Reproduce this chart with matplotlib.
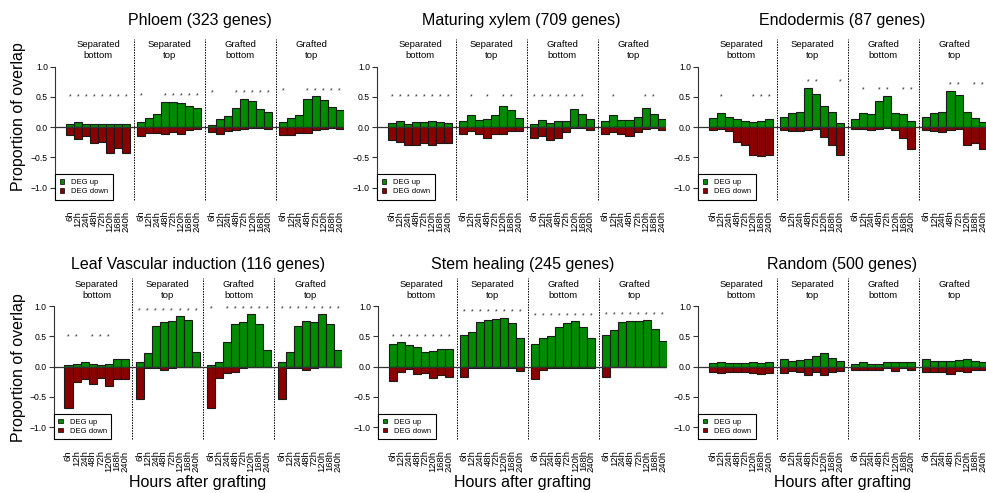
import numpy as np
import matplotlib
matplotlib.use('Agg')
import matplotlib.pyplot as plt
from matplotlib.patches import Patch

plt.rcParams['font.family'] = ['Liberation Sans', 'DejaVu Sans']

GREEN = '#008B00'
RED = '#8B0000'
EDGE = '#1a1a1a'

TIMES = ['6h', '12h', '24h', '48h', '72h', '120h', '168h', '240h']
CONDITIONS = ['Separated\nbottom', 'Separated\ntop', 'Grafted\nbottom', 'Grafted\ntop']
TITLES = ['Phloem (323 genes)', 'Maturing xylem (709 genes)', 'Endodermis (87 genes)',
          'Leaf Vascular induction (116 genes)', 'Stem healing (245 genes)', 'Random (500 genes)']

# one row per condition, one column per time point
phloem_up = [[0.05, 0.08, 0.05, 0.05, 0.05, 0.05, 0.05, 0.05],
             [0.08, 0.15, 0.21, 0.42, 0.42, 0.40, 0.35, 0.31],
             [0.03, 0.13, 0.18, 0.31, 0.47, 0.43, 0.30, 0.25],
             [0.08, 0.15, 0.20, 0.46, 0.51, 0.45, 0.33, 0.28]]
phloem_down = [[-0.14, -0.19, -0.15, -0.27, -0.24, -0.43, -0.35, -0.43],
               [-0.15, -0.10, -0.10, -0.12, -0.09, -0.12, -0.05, -0.04],
               [-0.08, -0.12, -0.07, -0.05, -0.03, -0.01, -0.01, -0.04],
               [-0.13, -0.13, -0.10, -0.10, -0.05, -0.04, -0.02, -0.04]]
phloem_sig = [[1, 1, 1, 1, 1, 1, 1, 1],
              [1, 0, 0, 1, 1, 1, 1, 1],
              [1, 0, 0, 1, 1, 1, 1, 1],
              [1, 0, 0, 1, 1, 1, 1, 1]]

xylem_up = [[0.07, 0.10, 0.05, 0.08, 0.08, 0.10, 0.08, 0.07],
            [0.10, 0.20, 0.12, 0.13, 0.20, 0.35, 0.28, 0.15],
            [0.05, 0.12, 0.07, 0.10, 0.10, 0.30, 0.21, 0.13],
            [0.10, 0.20, 0.12, 0.12, 0.16, 0.31, 0.21, 0.13]]
xylem_down = [[-0.22, -0.25, -0.29, -0.30, -0.27, -0.30, -0.26, -0.26],
              [-0.12, -0.07, -0.12, -0.18, -0.12, -0.12, -0.07, -0.07],
              [-0.18, -0.15, -0.22, -0.18, -0.08, -0.02, -0.02, -0.05],
              [-0.12, -0.08, -0.12, -0.15, -0.08, -0.04, -0.02, -0.05]]
xylem_sig = [[1, 1, 1, 1, 1, 1, 1, 1],
             [0, 1, 0, 1, 0, 1, 1, 0],
             [1, 1, 1, 1, 1, 1, 1, 0],
             [0, 1, 0, 0, 0, 1, 1, 0]]

endo_up = [[0.15, 0.23, 0.16, 0.13, 0.10, 0.08, 0.10, 0.13],
           [0.16, 0.23, 0.25, 0.65, 0.55, 0.35, 0.25, 0.07],
           [0.13, 0.23, 0.21, 0.43, 0.52, 0.23, 0.21, 0.10],
           [0.16, 0.23, 0.25, 0.60, 0.53, 0.25, 0.15, 0.08]]
endo_down = [[-0.05, -0.04, -0.07, -0.24, -0.30, -0.46, -0.48, -0.46],
             [-0.05, -0.07, -0.07, -0.05, -0.04, -0.17, -0.29, -0.47],
             [-0.04, -0.04, -0.05, -0.04, -0.02, -0.05, -0.18, -0.37],
             [-0.05, -0.07, -0.08, -0.05, -0.04, -0.30, -0.27, -0.37]]
endo_sig = [[0, 1, 0, 0, 0, 1, 1, 1],
            [0, 0, 0, 1, 1, 0, 0, 1],
            [0, 1, 0, 1, 1, 0, 1, 1],
            [0, 0, 0, 1, 1, 0, 1, 1]]

leaf_up = [[0.03, 0.05, 0.08, 0.05, 0.02, 0.05, 0.13, 0.13],
           [0.08, 0.22, 0.67, 0.74, 0.75, 0.84, 0.77, 0.25],
           [0.03, 0.07, 0.40, 0.70, 0.74, 0.87, 0.70, 0.27],
           [0.08, 0.24, 0.67, 0.75, 0.74, 0.87, 0.70, 0.28]]
leaf_down = [[-0.69, -0.26, -0.21, -0.29, -0.18, -0.32, -0.21, -0.21],
             [-0.54, -0.02, -0.02, -0.05, -0.02, 0.00, 0.00, 0.00],
             [-0.68, -0.18, -0.10, -0.08, -0.02, 0.00, 0.00, 0.00],
             [-0.53, -0.02, -0.02, -0.05, -0.02, 0.00, 0.00, 0.00]]
leaf_sig = [[1, 1, 0, 1, 1, 1, 0, 0],
            [1, 1, 1, 1, 1, 1, 1, 1],
            [1, 0, 1, 1, 1, 1, 1, 1],
            [1, 1, 1, 1, 1, 1, 1, 1]]

stem_up = [[0.37, 0.40, 0.35, 0.32, 0.24, 0.26, 0.30, 0.29],
           [0.52, 0.58, 0.74, 0.77, 0.79, 0.81, 0.72, 0.47],
           [0.38, 0.47, 0.51, 0.65, 0.72, 0.75, 0.65, 0.47],
           [0.52, 0.60, 0.74, 0.75, 0.75, 0.77, 0.62, 0.43]]
stem_down = [[-0.24, -0.08, -0.04, -0.12, -0.10, -0.19, -0.14, -0.17],
             [-0.17, -0.02, -0.02, -0.03, -0.03, -0.03, -0.03, -0.07],
             [-0.20, -0.05, -0.03, -0.03, -0.02, -0.02, -0.02, -0.03],
             [-0.17, -0.01, -0.01, -0.01, -0.01, -0.01, -0.01, -0.01]]
stem_sig = [[1] * 8, [1] * 8, [1] * 8, [1] * 8]

random_up = [[0.06, 0.08, 0.06, 0.06, 0.06, 0.08, 0.06, 0.08],
             [0.13, 0.10, 0.11, 0.13, 0.18, 0.23, 0.15, 0.10],
             [0.05, 0.07, 0.05, 0.05, 0.08, 0.08, 0.08, 0.08],
             [0.13, 0.10, 0.10, 0.10, 0.11, 0.13, 0.10, 0.08]]
random_down = [[-0.08, -0.10, -0.08, -0.08, -0.08, -0.10, -0.12, -0.10],
               [-0.10, -0.07, -0.08, -0.13, -0.08, -0.13, -0.08, -0.07],
               [-0.05, -0.05, -0.05, -0.05, -0.03, -0.07, -0.03, -0.05],
               [-0.08, -0.08, -0.08, -0.12, -0.07, -0.08, -0.05, -0.05]]
random_sig = [[0] * 8, [0] * 8, [0] * 8, [0] * 8]

panels = [(phloem_up, phloem_down, phloem_sig),
          (xylem_up, xylem_down, xylem_sig),
          (endo_up, endo_down, endo_sig),
          (leaf_up, leaf_down, leaf_sig),
          (stem_up, stem_down, stem_sig),
          (random_up, random_down, random_sig)]

W, H = 987, 493
GAP = 0.87
STEP = len(TIMES) + GAP
XMIN, XMAX = -1.37, 4 * STEP - GAP + 0.05

# pixel layout of the panels
lefts = [[55, 377, 698], [53.5, 378, 698]]
panel_w = 289
row_top = [36.3, 275.9]
row_bot = [199.6, 439.3]
title_y = [20, 264]
ylab_y = [117, 368]

fig = plt.figure(figsize=(W / 100, H / 100), dpi=100)

for k, (up, down, sig) in enumerate(panels):
    r, c = divmod(k, 3)
    ax = fig.add_axes([lefts[r][c] / W, 1 - row_bot[r] / H,
                       panel_w / W, (row_bot[r] - row_top[r]) / H])
    ticks = []
    for g in range(4):
        xs = g * STEP + np.arange(len(TIMES)) + 0.5
        ticks.extend(xs)
        ax.bar(xs, up[g], width=1, color=GREEN, edgecolor=EDGE, linewidth=0.8, zorder=2)
        ax.bar(xs, down[g], width=1, color=RED, edgecolor=EDGE, linewidth=0.8, zorder=2)
        star_y = max(0.5, max(up[g]) + 0.09)
        for x, s in zip(xs, sig[g]):
            if s:
                ax.text(x, star_y, '*', ha='center', va='center', fontsize=5, color='#222222')
        ax.text(g * STEP + 4, 1.27, CONDITIONS[g], ha='center', va='center',
                fontsize=6.8, linespacing=1.25)
        if g > 0:
            xsep = g * STEP - GAP / 2
            ax.plot([xsep, xsep], [-1.2, 1.46], color='black', lw=0.7,
                    ls=(0, (1.5, 1.2)), clip_on=False)
    ax.axhline(0, color='#333333', lw=0.9, zorder=3)

    ax.set_xlim(XMIN, XMAX)
    ax.set_ylim(-1.2, 1.5)
    for side in ['top', 'right', 'bottom']:
        ax.spines[side].set_visible(False)
    ax.spines['left'].set_bounds(-1.2, 1.0)
    ax.spines['left'].set_linewidth(0.8)
    ax.spines['left'].set_color('#333333')
    ax.set_yticks([-1, -0.5, 0, 0.5, 1])
    ax.set_yticklabels(['\u22121.0', '\u22120.5', '0.0', '0.5', '1.0'])
    ax.tick_params(axis='y', length=3.5, width=0.8, labelsize=6.2, pad=1.5, color='#333333')
    ax.set_xticks(ticks)
    ax.set_xticklabels(TIMES * 4, rotation=90, fontsize=6.8)
    ax.tick_params(axis='x', length=0, pad=8)

    leg = ax.legend(handles=[Patch(facecolor=GREEN, edgecolor='black', lw=0.5, label='DEG up'),
                             Patch(facecolor=RED, edgecolor='black', lw=0.5, label='DEG down')],
                    loc='lower left', bbox_to_anchor=(0, 0), borderaxespad=0, fontsize=5.5,
                    handlelength=0.6, handleheight=0.6, handletextpad=0.9, borderpad=0.6,
                    labelspacing=0.25, fancybox=False, framealpha=1, edgecolor='black')
    leg.get_frame().set_linewidth(0.8)

    cx = (lefts[r][c] + panel_w / 2) / W
    fig.text(cx, 1 - title_y[r] / H, TITLES[k], ha='center', va='center', fontsize=11.5)
    if r == 1:
        fig.text(cx, 1 - 483 / H, 'Hours after grafting', ha='center', va='center', fontsize=11.5)

for r in range(2):
    fig.text(19 / W, 1 - ylab_y[r] / H, 'Proportion of overlap', rotation=90,
             ha='center', va='center', fontsize=11.5)

fig.savefig('out.png', dpi=100)
